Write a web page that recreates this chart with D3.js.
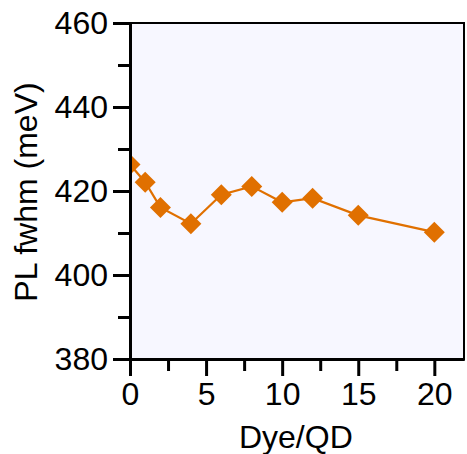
<!DOCTYPE html>
<html>
<head>
<meta charset="utf-8">
<script src="https://cdn.jsdelivr.net/npm/d3@7/dist/d3.min.js"></script>
<style>
  body { margin: 0; background: #fff; }
  text { font-family: "Liberation Sans", Arial, sans-serif; fill: #000; }
</style>
</head>
<body>
<svg id="chart" width="467" height="454"></svg>
<script>
// Data
const dyePerQd = [0, 1, 2, 4, 6, 8, 10, 12, 15, 20];
const fwhm = [426.3, 422.1, 416.1, 412.2, 419.1, 421.1, 417.3, 418.3, 414.2, 410.2];

const xMajor = [0, 5, 10, 15, 20];
const xMinor = [2.5, 7.5, 12.5, 17.5];
const yMajor = [380, 400, 420, 440, 460];
const yMinor = [390, 410, 430, 450];

const color = '#e07000';

const svg = d3.select('#chart');
const margin = { left: 130, right: 3, top: 23, bottom: 95 };
const width = 467 - margin.left - margin.right;
const height = 454 - margin.top - margin.bottom;

const x = d3.scaleLinear().domain([0, 21.95]).range([0, width]);
const y = d3.scaleLinear().domain([380, 460]).range([height, 0]);

const g = svg.append('g').attr('transform', `translate(${margin.left},${margin.top})`);

// plot background
g.append('rect')
  .attr('width', width)
  .attr('height', height)
  .attr('fill', '#f7f7ff');

g.append('clipPath').attr('id', 'clip')
  .append('rect').attr('width', width).attr('height', height);

// series
const pts = dyePerQd.map((d, i) => [d, fwhm[i]]);
const plot = g.append('g').attr('clip-path', 'url(#clip)');

plot.append('path')
  .datum(pts)
  .attr('fill', 'none')
  .attr('stroke', color)
  .attr('stroke-width', 2.2)
  .attr('d', d3.line().x(d => x(d[0])).y(d => y(d[1])));

plot.selectAll('.pt')
  .data(pts)
  .join('path')
  .attr('class', 'pt')
  .attr('transform', d => `translate(${x(d[0])},${y(d[1])})`)
  .attr('d', 'M0,-10.5L10.5,0L0,10.5L-10.5,0Z')
  .attr('fill', color);

// frame (top and right thinner)
g.append('rect')
  .attr('width', width)
  .attr('height', height)
  .attr('fill', 'none')
  .attr('stroke', '#000')
  .attr('stroke-width', 2);

// axes
g.append('g').attr('transform', `translate(0,${height})`)
  .call(d3.axisBottom(x).tickValues(xMajor).tickSize(17).tickPadding(6).tickSizeOuter(0));
g.append('g').attr('transform', `translate(0,${height})`)
  .call(d3.axisBottom(x).tickValues(xMinor).tickSize(12).tickFormat('').tickSizeOuter(0));

g.append('g')
  .call(d3.axisLeft(y).tickValues(yMajor).tickSize(17).tickPadding(5).tickSizeOuter(0));
g.append('g')
  .call(d3.axisLeft(y).tickValues(yMinor).tickSize(12).tickFormat('').tickSizeOuter(0));

g.selectAll('.tick line').attr('stroke', '#000').attr('stroke-width', 3);
g.selectAll('.domain').attr('stroke', '#000').attr('stroke-width', 3);
g.selectAll('.tick text').attr('font-size', 32).attr('fill', '#000');

// titles
svg.append('text')
  .attr('x', margin.left + x(10.9))
  .attr('y', 448)
  .attr('text-anchor', 'middle')
  .attr('font-size', 32)
  .text('Dye/QD');

svg.append('text')
  .attr('transform', 'translate(37,192) rotate(-90)')
  .attr('text-anchor', 'middle')
  .attr('font-size', 32)
  .text('PL fwhm (meV)');
</script>
</body>
</html>
